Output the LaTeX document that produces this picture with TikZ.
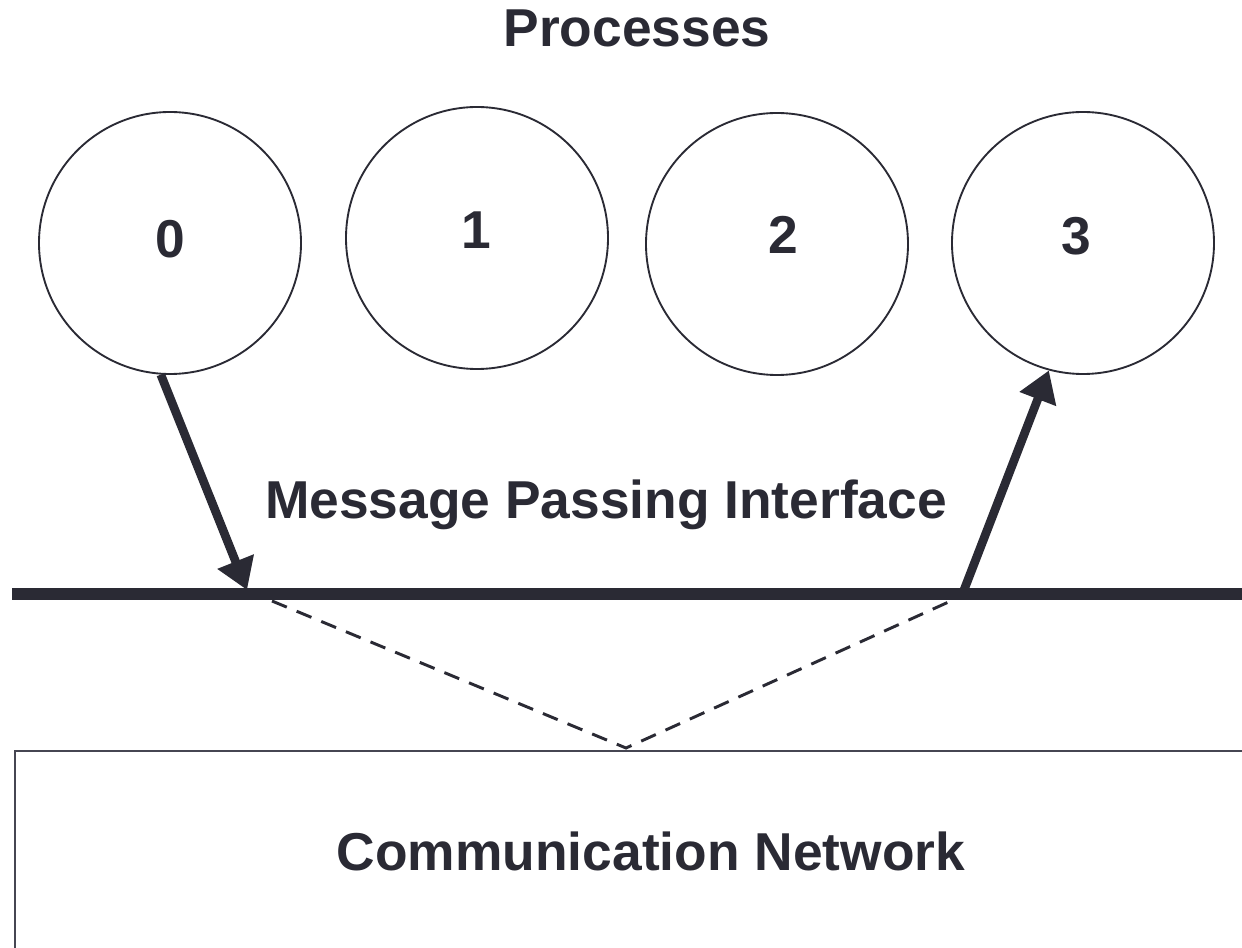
\documentclass[tikz,border=0pt]{standalone}
\usepackage{fontspec}
\setmainfont{Liberation Sans}
\usetikzlibrary{arrows.meta}
\definecolor{ink}{RGB}{42,42,52}
\definecolor{boxline}{RGB}{70,70,82}
\begin{document}
\begin{tikzpicture}[x=0.75pt,y=-0.75pt,
  lbl/.style={font=\fontsize{40}{48}\selectfont\bfseries, text=ink, inner sep=0pt},
  proc/.style={circle, draw=ink, line width=1.4pt, minimum size=196.5pt, inner sep=0pt},
  msgarrow/.style={draw=ink, line width=6.5pt, -{Triangle[length=23pt,width=28pt]}, shorten >=0pt},
  bus/.style={draw=ink, line width=9pt},
  link/.style={draw=ink, line width=2.2pt, dash pattern=on 12pt off 8pt},
  netbox/.style={draw=boxline, line width=1.6pt, anchor=north west, minimum width=1000pt, minimum height=200pt, inner sep=0pt}
]
\useasboundingbox (0,0) rectangle (1242,948);
\fill[white] (0,0) rectangle (1242,948);

% title
\node[lbl, anchor=base] (title) at (637,47) {Processes};

% processes
\node[proc] (p0) at (170,243) {};
\node[proc] (p1) at (477,238) {};
\node[proc] (p2) at (777,244) {};
\node[proc] (p3) at (1083,243) {};
\node[lbl] (d0) at (170,239) {0};
\node[lbl] (d1) at (476,230) {1};
\node[lbl] (d2) at (783,235) {2};
\node[lbl] (d3) at (1076,236) {3};

% message passing interface
\node[lbl, anchor=base] (mpi) at (606,518) {Message Passing Interface};
\coordinate (busL) at (12,594);
\coordinate (busR) at (1242,594);
\draw[bus] (busL) -- (busR);

% communication network
\node[netbox] (net) at (14,750) {};
\node[lbl, anchor=base] (cn) at (651,870) {Communication Network};

% connectors
\coordinate (sendpt) at (247,590);
\coordinate (recvpt) at (964,590);
\draw[msgarrow] (p0.266) -- (sendpt);
\draw[msgarrow] (recvpt) -- (p3.255);

\coordinate (dl) at (272,601);
\coordinate (apex) at (626,748);
\coordinate (dr) at (953,600);
\draw[link] (dl) -- (apex) -- (dr);
\end{tikzpicture}
\end{document}
